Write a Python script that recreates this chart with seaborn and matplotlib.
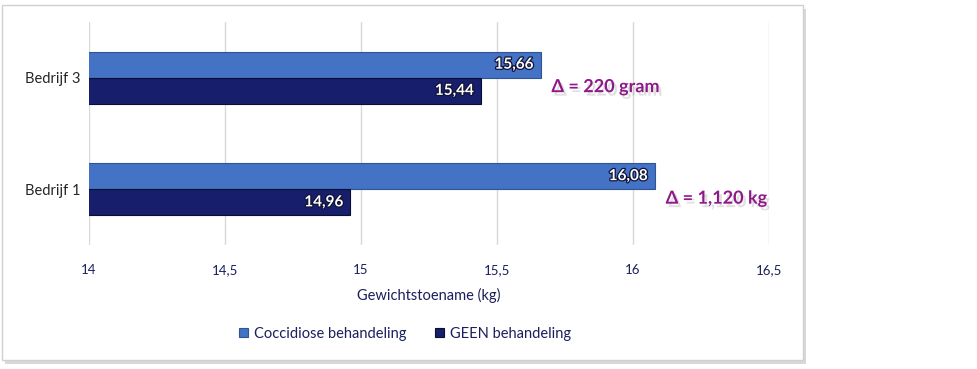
import matplotlib
matplotlib.use("Agg")
import matplotlib.pyplot as plt
import matplotlib.patheffects as pe
from matplotlib.patches import Rectangle, Patch
import seaborn as sns
import pandas as pd

# ---- data ----
categories = ["Bedrijf 3", "Bedrijf 1"]
series_names = ["Coccidiose behandeling", "GEEN behandeling"]
coccidiose = [15.66, 16.08]
geen = [15.44, 14.96]
delta_labels = ["\u0394 = 220 gram", "\u0394 = 1,120 kg"]
x_ticks = [14, 14.5, 15, 15.5, 16, 16.5]
x_label = "Gewichtstoename (kg)"

colors = ["#4472C4", "#171E6B"]
edge_colors = ["#2F5597", "#0B0E33"]
text_navy = "#1B1F5C"
purple = "#8E1A8A"

sns.set_theme(style="white")
plt.rcParams["font.family"] = ["Lato", "DejaVu Sans"]

df = pd.DataFrame({
    "Bedrijf": categories * 2,
    "Behandeling": [series_names[0]] * len(categories) + [series_names[1]] * len(categories),
    "Gewicht": coccidiose + geen,
})

fig = plt.figure(figsize=(9.78, 3.69), dpi=100)
fig.patch.set_facecolor("white")

# frame with shadow
frame = Rectangle((2 / 978, 1 - 360 / 369), 801 / 978, 355 / 369,
                  transform=fig.transFigure, facecolor="white",
                  edgecolor="#D0D0D0", linewidth=1.0, zorder=-1)
shadow = Rectangle((5 / 978, 1 - 364 / 369), 801 / 978, 355 / 369,
                   transform=fig.transFigure, facecolor="#BFBFBF",
                   edgecolor="none", alpha=0.6, zorder=-2)
fig.patches.extend([shadow, frame])

ax = fig.add_axes([89 / 978, 1 - 245 / 369, 680 / 978, 223 / 369])
ax.set_zorder(1)
ax.set_facecolor("none")

sns.barplot(data=df, y="Bedrijf", x="Gewicht", hue="Behandeling",
            orient="h", palette=colors, width=0.47, ax=ax,
            order=categories, hue_order=series_names, legend=False,
            saturation=1, zorder=3)

for container, ec in zip(ax.containers, edge_colors):
    for bar in container:
        bar.set_edgecolor(ec)
        bar.set_linewidth(0.8)

ax.set_xlim(14, 16.5)
ax.set_xticks(x_ticks)
ax.set_xticklabels([f"{t:g}".replace(".", ",") for t in x_ticks],
                   color=text_navy, fontsize=9.5)
ax.tick_params(axis="x", pad=14, length=0)
ax.tick_params(axis="y", length=0, pad=6)
for lbl in ax.get_yticklabels():
    lbl.set_color("#262626")
    lbl.set_fontsize(10.5)
ax.set_xlabel(x_label, color=text_navy, fontsize=10.5, labelpad=8)
ax.set_ylabel("")
ax.grid(axis="x", color="#D9D9D9", linewidth=1, zorder=0)
ax.grid(axis="y", visible=False)
for s in ax.spines.values():
    s.set_visible(False)

# data labels
for container in ax.containers:
    labels = [f"{b.get_width():.2f}".replace(".", ",") for b in container]
    anns = ax.bar_label(container, labels=labels, padding=-5, label_type="edge",
                        color="white", fontweight="bold", fontsize=11,
                        path_effects=[pe.withStroke(linewidth=1.8, foreground="#101338")])
    for a in anns:
        a.set_horizontalalignment("right")

# delta annotations
for i, (val, txt) in enumerate(zip(coccidiose, delta_labels)):
    ax.text(val + 0.04, i + 0.08, txt, color=purple, fontsize=13,
            fontweight="bold", va="center", ha="left",
            path_effects=[pe.SimplePatchShadow(offset=(2, -2.5), shadow_rgbFace="#9A9A9A", alpha=0.3),
                          pe.Normal()])

# legend
handles = [Patch(facecolor=c, edgecolor=e, linewidth=0.8) for c, e in zip(colors, edge_colors)]
leg = fig.legend(handles, series_names, loc="center", bbox_to_anchor=(405 / 978, 1 - 334 / 369),
                 ncol=2, frameon=False, fontsize=10.5, handlelength=0.6, handleheight=0.6,
                 handletextpad=0.4, columnspacing=2.0)
for t in leg.get_texts():
    t.set_color(text_navy)

fig.savefig("out.png", dpi=100)
